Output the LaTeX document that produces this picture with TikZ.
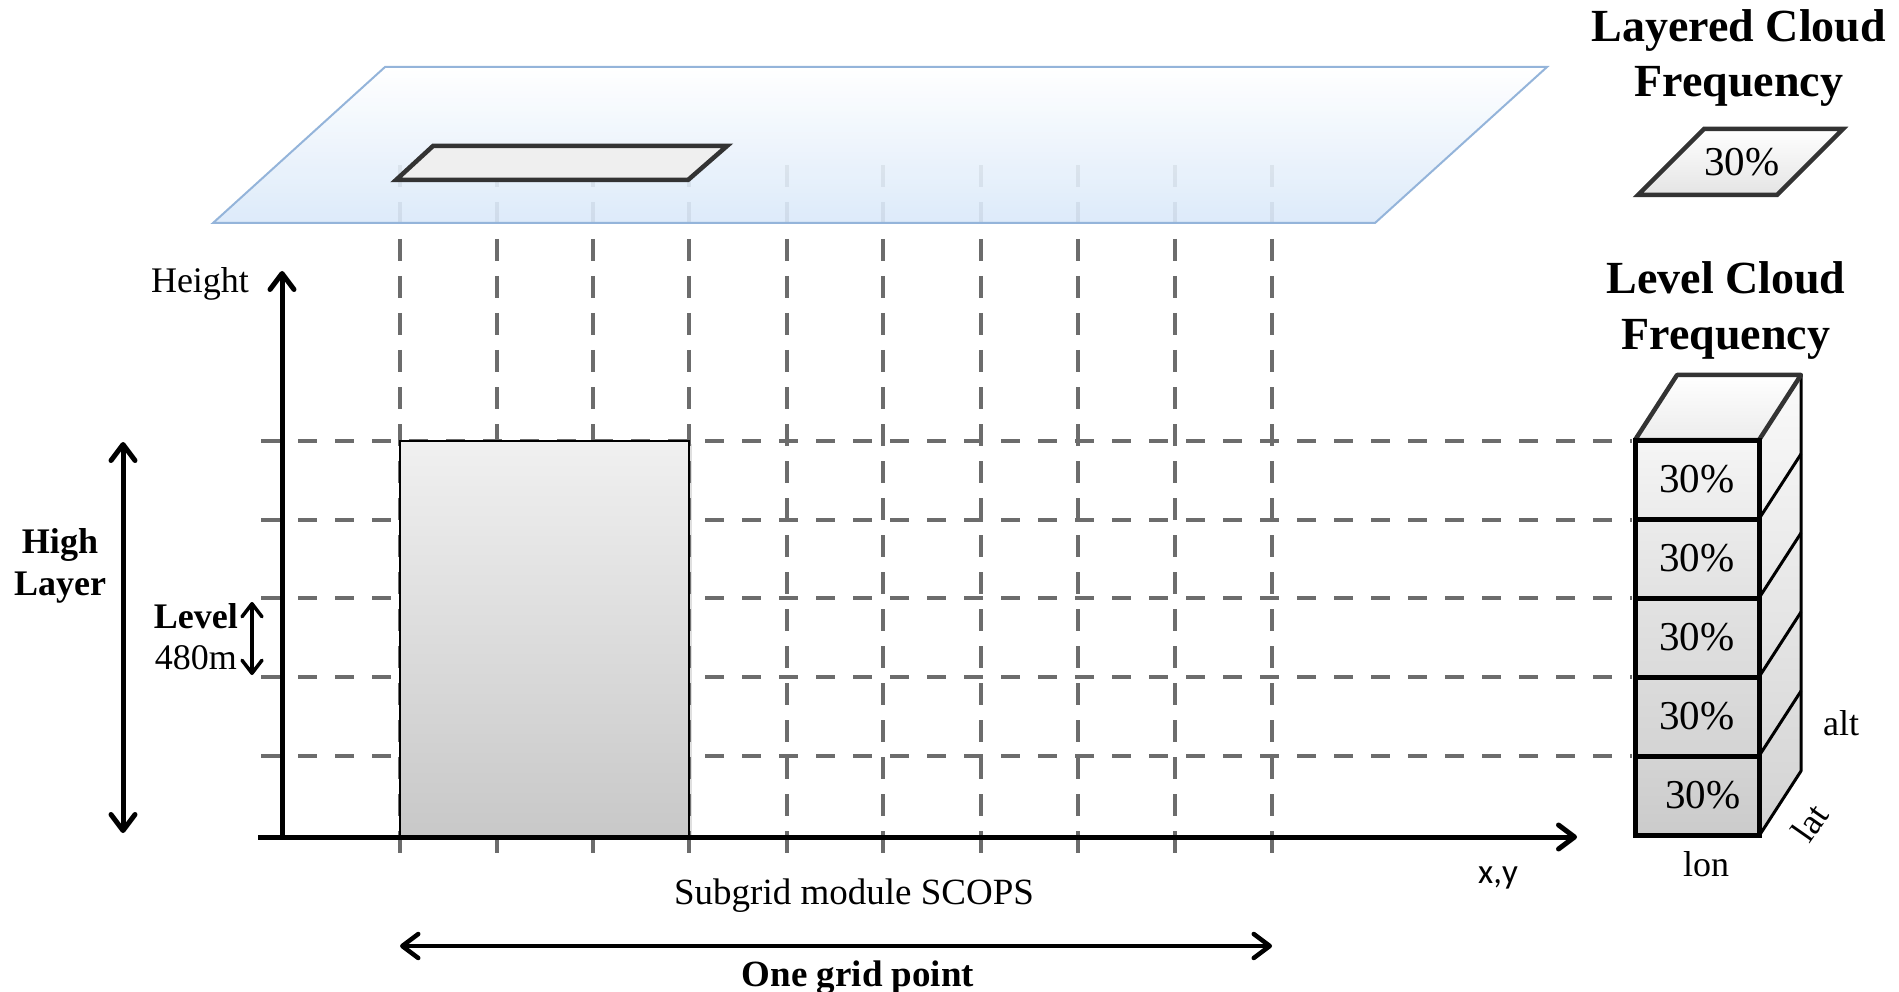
\documentclass[tikz,border=0pt]{standalone}
\usepackage{fontspec}
\setmainfont{Liberation Serif}
\newfontfamily\calibfont{Carlito}
\usetikzlibrary{arrows.meta,shadows}
\definecolor{gridgray}{HTML}{6C6C6C}
\definecolor{planeblue}{HTML}{D9E8F9}
\definecolor{planeedge}{HTML}{94B4DA}
\definecolor{edgedark}{HTML}{333333}
\begin{document}
\begin{tikzpicture}[x=1pt,y=-1pt,
  gridv/.style={draw=gridgray,line width=4.5pt,dash pattern=on 22pt off 15pt},
  gridh/.style={draw=gridgray,line width=4.5pt,dash pattern=on 19pt off 18pt},
  axisarrow/.style={line width=5pt,-{Straight Barb[length=16pt,width=24pt,round]}},
  dblarrow/.style={line width=5pt,{Straight Barb[length=16pt,width=24pt,round]}-{Straight Barb[length=16pt,width=24pt,round]}},
  smallarrow/.style={line width=3.5pt,{Straight Barb[length=13pt,width=20pt,round]}-{Straight Barb[length=13pt,width=20pt,round]}},
  regtext/.style={font=\fontsize{36}{42}\selectfont,inner sep=0pt},
  boldtext/.style={font=\bfseries\fontsize{36}{42}\selectfont,inner sep=0pt},
  titletext/.style={font=\bfseries\fontsize{46}{54}\selectfont,inner sep=0pt},
  pcttext/.style={font=\fontsize{41}{48}\selectfont},
  cellbox/.style={draw=black,line width=5pt,minimum width=124pt,minimum height=79pt,inner sep=0pt,outer sep=0pt,font=\fontsize{41}{48}\selectfont}
]
\useasboundingbox (0,0) rectangle (1899,992);

% vertical grid lines
\foreach \gx in {400,497,593,689,787,883,981,1078,1175,1272}
  \draw[gridv] (\gx,165) -- (\gx,858);

% cloud plane
\path[top color=white,bottom color=planeblue,fill opacity=0.9,draw=planeedge,line width=2pt,draw opacity=1]
  (213,223) coordinate (pl1) -- (385,67) coordinate (pl2) -- (1547,67) coordinate (pl3) -- (1375,223) coordinate (pl4) -- cycle;
\draw[edgedark,line width=4.5pt,fill={rgb,255:red,239;green,239;blue,239},line join=miter]
  (396,180) coordinate (sr1) -- (433,146) coordinate (sr2) -- (727,146) coordinate (sr3) -- (688,180) coordinate (sr4) -- cycle;

% horizontal grid lines
\foreach \gy in {441,520,598,677,756}
  \draw[gridh] (261,\gy) -- (1632,\gy);

% sub-grid cloud column
\path[top color={rgb,255:red,240;green,240;blue,240},bottom color={rgb,255:red,200;green,200;blue,200},
  draw=black,line width=2pt,drop shadow={opacity=0.25,shadow xshift=3pt,shadow yshift=-3pt}]
  (400,441) rectangle (689,837);

% axes
\coordinate (xs) at (258,837);
\coordinate (xe) at (1577,837);
\coordinate (o) at (282,837);
\coordinate (ye) at (282,271);
\draw[axisarrow] (xs) -- (xe);
\draw[axisarrow] (o) -- (ye);

% high layer arrow
\coordinate (hl1) at (123,442);
\coordinate (hl2) at (123,833);
\draw[dblarrow] (hl1) -- (hl2);
% level arrow
\coordinate (lv1) at (252,602);
\coordinate (lv2) at (252,675);
\draw[smallarrow] (lv1) -- (lv2);
% one grid point arrow
\coordinate (gp1) at (400,946);
\coordinate (gp2) at (1272,946);
\draw[dblarrow,line width=4.5pt] (gp1) -- (gp2);

% cube: right face and top face
\path[top color={rgb,255:red,250;green,250;blue,250},bottom color={rgb,255:red,210;green,210;blue,210},draw=black,line width=3pt,line join=round]
  (1759,440) coordinate (cf1) -- (1801,375) coordinate (cb1) -- (1801,771) coordinate (cb2) -- (1759,836) coordinate (cf2) -- cycle;
\foreach \cy in {519,598,677,756}
  \draw[black,line width=3pt] (1759,\cy) -- (1801,\cy-65);
\path[top color=white,bottom color={rgb,255:red,236;green,236;blue,236},draw=edgedark,line width=4.5pt,line join=round]
  (1635,440) coordinate (ct1) -- (1677,375) coordinate (ct2) -- (cb1) -- (cf1) -- cycle;

% cube: front rows
\node[cellbox,top color={rgb,255:red,245;green,245;blue,245},bottom color={rgb,255:red,235;green,235;blue,235}] (r1) at (1697,479.5) {30\%};
\node[cellbox,top color={rgb,255:red,235;green,235;blue,235},bottom color={rgb,255:red,226;green,226;blue,226}] (r2) at (1697,558.5) {30\%};
\node[cellbox,top color={rgb,255:red,226;green,226;blue,226},bottom color={rgb,255:red,219;green,219;blue,219}] (r3) at (1697,637.5) {30\%};
\node[cellbox,top color={rgb,255:red,219;green,219;blue,219},bottom color={rgb,255:red,212;green,212;blue,212}] (r4) at (1697,716.5) {30\%};
\node[cellbox,top color={rgb,255:red,212;green,212;blue,212},bottom color={rgb,255:red,203;green,203;blue,203}] (r5) at (1697,795.5) {\hspace{12pt}30\%};

% layered cloud frequency parallelogram
\path[top color=white,bottom color={rgb,255:red,228;green,228;blue,228},draw=edgedark,line width=4.5pt,line join=miter]
  (1638,195) coordinate (lp1) -- (1704,129) coordinate (lp2) -- (1843,129) coordinate (lp3) -- (1777,195) coordinate (lp4) -- cycle;
\node[pcttext,inner sep=0pt] (lpct) at (1742,162) {30\%};

% titles
\node[titletext,anchor=base] (t1a) at (1739,42) {Layered Cloud};
\node[titletext,anchor=base] (t1b) at (1739,97) {Frequency};
\node[titletext,anchor=base] (t2a) at (1726,294) {Level Cloud};
\node[titletext,anchor=base] (t2b) at (1726,349) {Frequency};

% labels
\node[regtext,anchor=base] (height) at (200,293) {Height};
\node[boldtext,anchor=base] (high) at (60,553) {High};
\node[boldtext,anchor=base] (layer) at (60,595) {Layer};
\node[boldtext,anchor=base east] (level) at (238,628) {Level};
\node[regtext,anchor=base east] (m480) at (237,669) {480m};
\node[regtext,anchor=base,font=\fontsize{37}{42}\selectfont] (scops) at (854,904) {Subgrid module SCOPS};
\node[boldtext,anchor=base,font=\bfseries\fontsize{37}{42}\selectfont] (onegrid) at (858,986) {One grid point};
\node[anchor=base,inner sep=0pt,font=\calibfont\fontsize{35}{40}\selectfont] (xy) at (1498,883) {x,y};
\node[regtext,anchor=base] (alt) at (1841,735) {alt};
\node[regtext,anchor=base] (lon) at (1706,876) {lon};
\node[regtext,rotate=55] (lat) at (1810,823) {lat};
\end{tikzpicture}
\end{document}
